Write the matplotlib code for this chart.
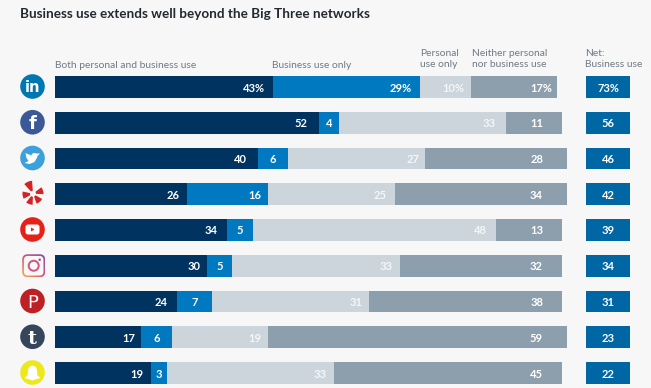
import matplotlib
matplotlib.use('Agg')
import matplotlib.pyplot as plt
import numpy as np
from matplotlib.patches import Circle, FancyBboxPatch, Polygon, Wedge

plt.rcParams['font.family'] = ['Lato', 'DejaVu Sans']

# Data
networks = ['LinkedIn', 'Facebook', 'Twitter', 'Yelp', 'YouTube', 'Instagram', 'Pinterest', 'Tumblr', 'Snapchat']
both = [43, 52, 40, 26, 34, 30, 24, 17, 19]
business_only = [29, 4, 6, 16, 5, 5, 7, 6, 3]
personal_only = [10, 33, 27, 25, 48, 33, 31, 19, 33]
neither = [17, 11, 28, 34, 13, 32, 38, 59, 45]
net_business = [73, 56, 46, 42, 39, 34, 31, 23, 22]

series = [both, business_only, personal_only, neither]
colors = ['#00335f', '#0079c1', '#ccd5dc', '#8d9fac']

# distance of the value label from the end of its segment, px
both_inset = [8, 11, 10.5, 7.5, 10, 7, 9, 6.4, 8]
personal_inset = [6, 11, 6, 8.5, 9.5, 7, 6.6, 6.5, 7]
insets = [both_inset, None, personal_inset, None]

W, H = 651, 388
PX = 5.07  # px per percentage point
NET_LEFT = (586 - 55) / PX
NET_WIDTH = 44 / PX
NEITHER_RIGHT = (543 - 55) / PX  # the last column's labels line up

fig = plt.figure(figsize=(W / 100, H / 100), dpi=100, facecolor='#f7f7f7')

# Bars axes: x in percent, y in rows
ax = fig.add_axes([55 / W, 0, (W - 55) / W, 1], facecolor='none')
ax.set_xlim(0, (W - 55) / PX)
row_h = 35.75
ax.set_ylim((388 - 87) / row_h, -87 / row_h)
ax.axis('off')

num = dict(va='center_baseline', color='white', fontsize=8, fontweight='bold')
for row in range(len(networks)):
    left = 0
    for k, values in enumerate(series):
        v = values[row]
        ax.barh(row, v, left=left, height=21.7 / row_h, color=colors[k], linewidth=0)
        label = f'{v}%' if row == 0 else str(v)
        if k == 1 and v < 10:
            ax.text(left + v / 2, row, label, ha='center', **num)
        elif k == 1:
            ax.text(left + v - (8 if row == 0 else 6.5) / PX, row, label, ha='right', **num)
        elif k == 3:
            x = left + v - 5 / PX if row == 0 else NEITHER_RIGHT
            ax.text(x, row, label, ha='right', **num)
        else:
            ax.text(left + v - insets[k][row] / PX, row, label, ha='right', alpha=1 if k == 0 else 0.8, **num)
        left += v
    ax.barh(row, NET_WIDTH, left=NET_LEFT, height=21.7 / row_h, color='#0066a4', linewidth=0)
    ax.text(NET_LEFT + NET_WIDTH / 2, row, f'{net_business[row]}%' if row == 0 else str(net_business[row]),
            ha='center', **num)

# Overlay in pixel coordinates for title, headers and icons
ov = fig.add_axes([0, 0, 1, 1], facecolor='none')
ov.set_xlim(0, W)
ov.set_ylim(H, 0)
ov.axis('off')

ov.text(20, 13.5, 'Business use extends well beyond the Big Three networks', fontsize=9.7,
        fontweight='bold', color='#222a30', va='center')

hdr = dict(fontsize=7.4, color='#6f7a84', va='center', linespacing=1.4)
ov.text(55, 65, 'Both personal and business use', **hdr)
ov.text(272, 65, 'Business use only', **hdr)
ov.text(420, 59, 'Personal\nuse only', **hdr)
ov.text(472.5, 59, 'Neither personal\nnor business use', **hdr)
ov.text(585, 59, 'Net:\nBusiness use', **hdr)


def cy(i):
    return 86.5 + i * row_h


CX = 32.5
R = 12.3


def badge(i, color, glyph, size, **kw):
    ov.add_patch(Circle((CX, cy(i)), R, color=color, lw=0))
    ov.text(CX, cy(i), glyph, color='white', fontsize=size, fontweight=kw.get('weight', 'bold'),
            ha='center', va='center_baseline', family=kw.get('family', 'DejaVu Sans'))


badge(0, '#0077b0', 'in', 10.5)
badge(1, '#3b5998', 'f', 13)

# Twitter
y2 = cy(2)
ov.add_patch(Circle((CX, y2), R, color='#3ca0dc', lw=0))
ov.add_patch(Circle((CX + 1.8, y2 - 2), 3, color='white', lw=0))
ov.add_patch(Polygon([(CX - 7, y2 - 5), (CX, y2 - 2), (CX + 4.8, y2 - 1), (CX + 2, y2 + 4),
                      (CX - 3, y2 + 6), (CX - 8, y2 + 5), (CX - 4, y2 + 3), (CX - 6, y2)],
                     color='white', lw=0))
ov.add_patch(Polygon([(CX + 3, y2 - 4.5), (CX + 7.5, y2 - 4.5), (CX + 4.5, y2 - 1.5)], color='white', lw=0))

# Yelp, angles as seen on screen, y axis points down so they flip
for ang, half, rad in [(113, 19, 13), (18, 20, 10.5), (-50, 20, 10.5), (-110, 18, 11), (188, 20, 10.5)]:
    ov.add_patch(Wedge((33, cy(3)), rad, -ang - half, -ang + half, width=rad - 3, color='#d32323', lw=0))

# YouTube
y4 = cy(4)
ov.add_patch(Circle((CX, y4), R, color='#e62117', lw=0))
ov.add_patch(FancyBboxPatch((CX - 7, y4 - 5), 14, 10, boxstyle='round,pad=0,rounding_size=2.5', color='white', lw=0))
ov.add_patch(Polygon([(CX - 1.5, y4 - 2), (CX + 2, y4), (CX - 1.5, y4 + 2)], color='#e62117', lw=0))

# Instagram
y5 = cy(5) + 0.5
ix = 33.7
outer = FancyBboxPatch((ix - 11.5, y5 - 11.5), 23, 23, boxstyle='round,pad=0,rounding_size=5.5',
                       fc='none', ec='none', lw=0)
ov.add_patch(outer)
grad = np.linspace(0, 1, 64)[None, :] + np.linspace(0, 1, 64)[:, None]
img = ov.imshow(grad, extent=(ix - 11.5, ix + 11.5, y5 - 11.5, y5 + 11.5), aspect='auto', origin='upper',
                cmap=matplotlib.colors.LinearSegmentedColormap.from_list('ig', ['#f7b04a', '#d1567b', '#7a52a8']))
img.set_clip_path(outer)
ov.set_xlim(0, W)
ov.set_ylim(H, 0)
ov.add_patch(FancyBboxPatch((ix - 9.8, y5 - 9.8), 19.6, 19.6, boxstyle='round,pad=0,rounding_size=4',
                            fc='#f7f7f7', ec='none', lw=0))
ov.add_patch(Circle((ix, y5), 5, fc='none', ec='#d1567b', lw=1.4))
ov.add_patch(Circle((ix + 6, y5 - 6), 1.2, color='#a83f98', lw=0))

badge(6, '#bd2126', 'P', 13, weight='normal')
badge(7, '#35465c', 't', 14, family='DejaVu Serif')

# Snapchat
y8 = cy(8)
ov.add_patch(Circle((CX, y8), R, color='#ede81c', lw=0))
ov.add_patch(Circle((CX, y8 - 2.5), 4.3, color='white', lw=0))
ov.add_patch(Polygon([(CX - 4.3, y8 - 2.5), (CX + 4.3, y8 - 2.5), (CX + 5, y8 + 3), (CX + 8, y8 + 5.5),
                      (CX + 3, y8 + 7), (CX, y8 + 8), (CX - 3, y8 + 7), (CX - 8, y8 + 5.5), (CX - 5, y8 + 3)],
                     color='white', lw=0))

plt.savefig('out.png', dpi=100, facecolor=fig.get_facecolor())
